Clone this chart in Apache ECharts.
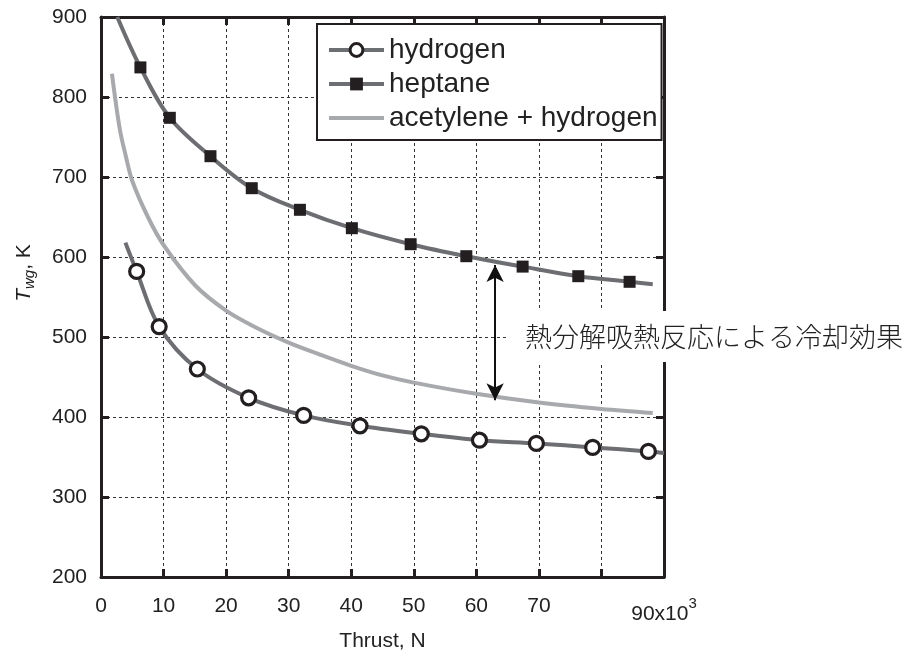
<!DOCTYPE html>
<html>
<head>
<meta charset="utf-8">
<script src="https://cdn.jsdelivr.net/npm/echarts@6/dist/echarts.min.js"></script>
<style>
  html, body { margin: 0; padding: 0; background: #fff; }
  #chart { width: 905px; height: 657px; }
</style>
</head>
<body>
<div id="chart"></div>
<script>
// ---- data ----
const seriesNames = ['hydrogen', 'heptane', 'acetylene + hydrogen'];

// hydrogen: curve ends (no marker) + measured points (circles)
const hydrogenCurveStart = [3.9, 618];
const hydrogenPoints = [[5.7, 582], [9.3, 513], [15.4, 460], [23.6, 424], [32.4, 402], [41.4, 389],
                        [51.2, 379], [60.5, 371], [69.6, 367], [78.6, 362], [87.5, 357]];
const hydrogenCurveEnd = [90, 355];

// heptane: curve ends (no marker) + measured points (squares)
const heptaneCurveStart = [2.6, 900];
const heptanePoints = [[6.3, 837], [11.0, 774], [17.5, 726], [24.1, 686], [31.8, 659], [40.1, 636],
                       [49.5, 616], [58.4, 601], [67.4, 588], [76.3, 576], [84.5, 569]];
const heptaneCurveEnd = [88.2, 566];

// acetylene + hydrogen: curve only
const acetyleneCurve = [[1.75, 829], [3, 760], [4, 725], [5, 695], [7.5, 650], [10, 615], [15, 565],
                        [20, 533], [25, 511], [30, 493], [35, 478], [40, 464], [45, 452], [50, 443],
                        [60, 429], [70, 418], [80, 410], [88.2, 405]];

// annotation: cooling-effect arrow between heptane and acetylene curves
const arrowFrom = [63, 590];
const arrowTo = [63, 421];
const annotationText = '熱分解吸熱反応による冷却効果';

// axes
const xMin = 0, xMax = 90, xStep = 10;
const yMin = 200, yMax = 900, yStep = 100;
const xTickLabels = { 0: '0', 10: '10', 20: '20', 30: '30', 40: '40', 50: '50', 60: '60', 70: '70', 80: '', 90: '90x10{sup|3}' };
const xAxisTitle = 'Thrust, N';
const yAxisTitle = '{t|T}{s|wg}{n|, K}';

// ---- build ----
function withEnds(start, pts, end) {
  const arr = [{ value: start, symbol: 'none' }];
  pts.forEach(p => arr.push({ value: p }));
  arr.push({ value: end, symbol: 'none' });
  return arr;
}

const FRAME = '#231f20';
const LINE_GRAY = '#6d6e71';
const LIGHT_GRAY = '#a7a9ac';
const LATIN = '"Liberation Sans", Arial, sans-serif';

const chart = echarts.init(document.getElementById('chart'), null, { renderer: 'canvas' });

const axisCommon = {
  axisLine: { show: true, onZero: false, lineStyle: { color: FRAME, width: 3 } },
  axisTick: { show: true, inside: true, length: 8, lineStyle: { color: FRAME, width: 3 } },
};

chart.setOption({
  backgroundColor: '#fff',
  animation: false,
  grid: { left: 101, right: 241, top: 17, bottom: 77, containLabel: false },
  legend: {
    orient: 'vertical',
    left: 317, top: 24,
    data: [
      { name: seriesNames[0], lineStyle: { width: 4, color: LINE_GRAY }, itemStyle: { color: '#fff', borderColor: FRAME, borderWidth: 3 } },
      { name: seriesNames[1], lineStyle: { width: 4, color: LINE_GRAY }, itemStyle: { color: FRAME, borderWidth: 0 } },
      { name: seriesNames[2], lineStyle: { width: 4, color: LIGHT_GRAY }, itemStyle: { opacity: 0 } }
    ],
    backgroundColor: '#fff',
    borderColor: FRAME, borderWidth: 2,
    padding: [12, 4, 8, 10],
    itemWidth: 55, itemHeight: 16, itemGap: 6,
    textStyle: { fontFamily: LATIN, fontSize: 28, color: '#222', lineHeight: 28 },
    selectedMode: false
  },
  xAxis: [
    Object.assign({
      type: 'value', min: xMin, max: xMax, interval: xStep, position: 'bottom',
      axisLabel: {
        margin: 19, fontFamily: LATIN, fontSize: 21, color: '#222',
        formatter: v => xTickLabels[v] !== undefined ? xTickLabels[v] : String(v),
        rich: { sup: { fontFamily: LATIN, fontSize: 15, color: '#222', padding: [0, 0, 22, 0] } }
      },
      splitLine: { show: true, lineStyle: { color: '#333', width: 1, type: [3, 3] } },
      name: xAxisTitle, nameLocation: 'middle', nameGap: 54,
      nameTextStyle: { fontFamily: LATIN, fontSize: 21, color: '#222' }
    }, axisCommon),
    Object.assign({
      type: 'value', min: xMin, max: xMax, interval: xStep, position: 'top',
      axisLabel: { show: false }, splitLine: { show: false }
    }, axisCommon)
  ],
  yAxis: [
    Object.assign({
      type: 'value', min: yMin, max: yMax, interval: yStep, position: 'left',
      axisLabel: { margin: 14, fontFamily: LATIN, fontSize: 21, color: '#222' },
      splitLine: { show: true, lineStyle: { color: '#333', width: 1, type: [3, 3] } }
    }, axisCommon),
    Object.assign({
      type: 'value', min: yMin, max: yMax, interval: yStep, position: 'right',
      axisLabel: { show: false }, splitLine: { show: false }
    }, axisCommon)
  ],
  series: [
    {
      name: seriesNames[0], type: 'line', smooth: 0.35,
      data: withEnds(hydrogenCurveStart, hydrogenPoints, hydrogenCurveEnd),
      symbol: 'circle', symbolSize: 14, showAllSymbol: true,
      lineStyle: { color: LINE_GRAY, width: 4 },
      itemStyle: { color: '#fff', borderColor: FRAME, borderWidth: 3.2 },
      z: 3
    },
    {
      name: seriesNames[1], type: 'line', smooth: 0.35,
      data: withEnds(heptaneCurveStart, heptanePoints, heptaneCurveEnd),
      symbol: 'rect', symbolSize: 12, showAllSymbol: true,
      lineStyle: { color: LINE_GRAY, width: 4 },
      itemStyle: { color: FRAME },
      z: 3,
      markLine: {
        silent: true, animation: false,
        symbol: ['arrow', 'arrow'], symbolSize: [13, 17],
        lineStyle: { color: '#111', width: 2, type: 'solid' },
        label: { show: false },
        data: [[{ coord: arrowFrom }, { coord: arrowTo }]]
      }
    },
    {
      name: seriesNames[2], type: 'line', smooth: 0.35,
      data: acetyleneCurve,
      symbol: 'none',
      lineStyle: { color: LIGHT_GRAY, width: 4 },
      itemStyle: { color: LIGHT_GRAY },
      z: 2
    }
  ],
  graphic: [
    {
      type: 'text', left: 508, top: 311, z: 100,
      style: {
        text: annotationText,
        font: '300 27px "Noto Sans CJK JP", sans-serif',
        fill: '#222',
        backgroundColor: '#fff',
        padding: [11, 4, 11, 17],
        lineHeight: 29
      }
    },
    {
      type: 'text', x: 24, y: 273, rotation: Math.PI / 2, z: 100,
      style: {
        text: yAxisTitle,
        align: 'center', verticalAlign: 'middle',
        fill: '#222',
        rich: {
          t: { fontFamily: LATIN, fontSize: 21, fontStyle: 'italic', fill: '#222' },
          s: { fontFamily: LATIN, fontSize: 15, fontStyle: 'italic', fill: '#222', padding: [12, 0, 0, 0] },
          n: { fontFamily: LATIN, fontSize: 21, fill: '#222' }
        }
      }
    }
  ]
});
</script>
</body>
</html>
